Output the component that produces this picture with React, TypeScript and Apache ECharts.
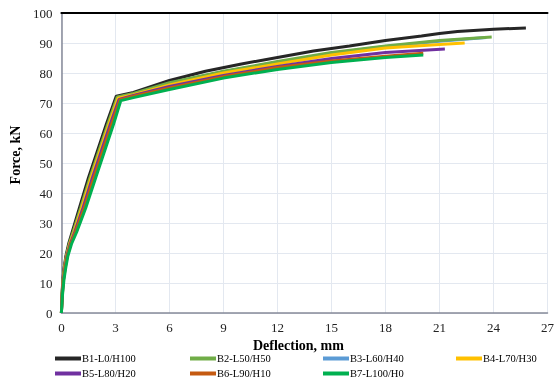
import React, { useEffect, useRef } from "react";
import * as echarts from "echarts";

const seriesNames = [
  "B1-L0/H100",
  "B2-L50/H50",
  "B3-L60/H40",
  "B4-L70/H30",
  "B5-L80/H20",
  "B6-L90/H10",
  "B7-L100/H0",
];
const seriesColors = ["#262626", "#70AD47", "#5B9BD5", "#FFC000", "#7030A0", "#C55A11", "#00B050"];

const b1 = [[0,0],[0.03,6],[0.08,11],[0.15,15],[0.25,19],[0.4,23],[0.6,27],[1,35],[1.5,45],[2,54],[2.5,63],[3.05,72.3],[4,73.5],[5,75.5],[6,77.5],[8,80.6],[10,83],[12,85.2],[14,87.3],[16,89],[18,90.8],[20,92.3],[21,93.2],[22,93.8],[24,94.6],[25.8,95]];
const b2 = [[0,0],[0.035,6],[0.09,11],[0.17,15],[0.27,19],[0.43,23],[0.65,27],[1.07,35],[1.58,45],[2.08,54],[2.58,63],[3.1,72],[4,73.2],[6,76.8],[9,80.6],[12,83.8],[15,86.8],[18,89],[21,90.8],[23.9,92]];
const b3 = [[0,0],[0.035,6],[0.09,11],[0.17,15],[0.27,19],[0.43,23],[0.65,27],[1.07,35],[1.58,45],[2.08,54],[2.58,63],[3.1,72],[4,73.1],[6,76.6],[9,80.4],[12,83.6],[15,86.6],[18,88.8],[21,90.6],[23.6,91.8]];
const b4 = [[0,0],[0.04,6],[0.1,11],[0.18,15],[0.29,19],[0.46,23],[0.7,27],[1.13,35],[1.65,45],[2.15,54],[2.65,63],[3.15,71.6],[4,72.8],[6,76],[9,80],[12,83],[15,86],[18,88.3],[21,89.5],[22.4,90]];
const b5 = [[0,0],[0.045,6],[0.11,11],[0.2,15],[0.31,19],[0.49,23],[0.74,27],[1.2,35],[1.72,45],[2.22,54],[2.72,63],[3.2,71.2],[4,72.5],[6,75.5],[9,79.2],[12,82.2],[15,84.8],[18,86.8],[21.3,88]];
const b6 = [[0,0],[0.05,6],[0.12,11],[0.21,15],[0.33,19],[0.52,23],[0.78,27],[1.27,35],[1.8,45],[2.3,54],[2.8,63],[3.25,71],[4,72.3],[6,75],[9,78.8],[12,81.8],[15,84],[18,85.6],[20.1,86.6]];
const b7 = [[0,0],[0.06,6],[0.14,11],[0.24,15],[0.36,19],[0.56,23],[0.85,27],[1.35,35],[1.9,45],[2.4,54],[2.9,63],[3.3,70.8],[4,71.8],[6,74.5],[9,78.3],[12,81.2],[15,83.5],[18,85.2],[20.1,86]];
const seriesData = [b1, b2, b3, b4, b5, b6, b7];

const xTicks = { min: 0, max: 27, interval: 3 };
const yTicks = { min: 0, max: 100, interval: 10 };

const legendPos = [
  [55, 353], [190, 353], [323, 353], [456, 353],
  [55, 368], [190, 368], [323, 368],
];
const drawOrder = [2, 0, 1, 3, 4, 5, 6];

export default function App() {
  const ref = useRef<HTMLDivElement>(null);
  useEffect(() => {
    const chart = echarts.init(ref.current!, undefined, { renderer: "svg" });
    const font = "Liberation Serif";
    chart.setOption({
      animation: false,
      textStyle: { fontFamily: font },
      grid: { left: 51, right: 2, top: 13, bottom: 70 },
      legend: seriesNames.map((n, i) => ({
        data: [n],
        left: legendPos[i][0],
        top: legendPos[i][1],
        padding: 0,
        itemWidth: 26,
        itemHeight: 4,
        icon: "rect",
        textStyle: { fontFamily: font, fontSize: 10.5, color: "#000", padding: [0, 0, 0, -4] },
      })),
      xAxis: [
        {
          type: "value",
          ...xTicks,
          name: "Deflection, mm",
          nameLocation: "middle",
          nameGap: 18,
          nameTextStyle: { fontFamily: font, fontWeight: "bold", fontSize: 14, color: "#000", padding: [0, 12, 0, 0] },
          axisLine: { show: true, lineStyle: { color: "#868a99", width: 1.5 } },
          axisTick: { show: false },
          axisLabel: { fontFamily: font, fontSize: 13, color: "#222", margin: 8 },
          splitLine: { show: true, lineStyle: { color: "#e3e8f0", width: 1 } },
        },
        {
          type: "value",
          position: "top",
          ...xTicks,
          axisLine: { show: true, onZero: false, lineStyle: { color: "#000", width: 2 } },
          axisTick: { show: false },
          axisLabel: { show: false },
          splitLine: { show: false },
        },
      ],
      yAxis: {
        type: "value",
        ...yTicks,
        name: "Force, kN",
        nameLocation: "middle",
        nameGap: 29,
        nameTextStyle: { fontFamily: font, fontWeight: "bold", fontSize: 14, color: "#000", padding: [0, 0, 0, 16] },
        axisLine: { show: true, lineStyle: { color: "#868a99", width: 1.5 } },
        axisTick: { show: false },
        axisLabel: { fontFamily: font, fontSize: 13, color: "#222", margin: 9 },
        splitLine: { show: true, lineStyle: { color: "#e3e8f0", width: 1 } },
      },
      series: drawOrder.map((i) => ({
        name: seriesNames[i],
        type: "line",
        data: seriesData[i],
        showSymbol: false,
        symbol: "none",
        smooth: false,
        color: seriesColors[i],
        lineStyle: { width: 3, color: seriesColors[i] },
        z: 2 + drawOrder.indexOf(i),
      })),
    });
    return () => chart.dispose();
  }, []);
  return <div ref={ref} style={{ position: "fixed", left: 0, top: 0, width: 557, height: 383 }} />;
}
